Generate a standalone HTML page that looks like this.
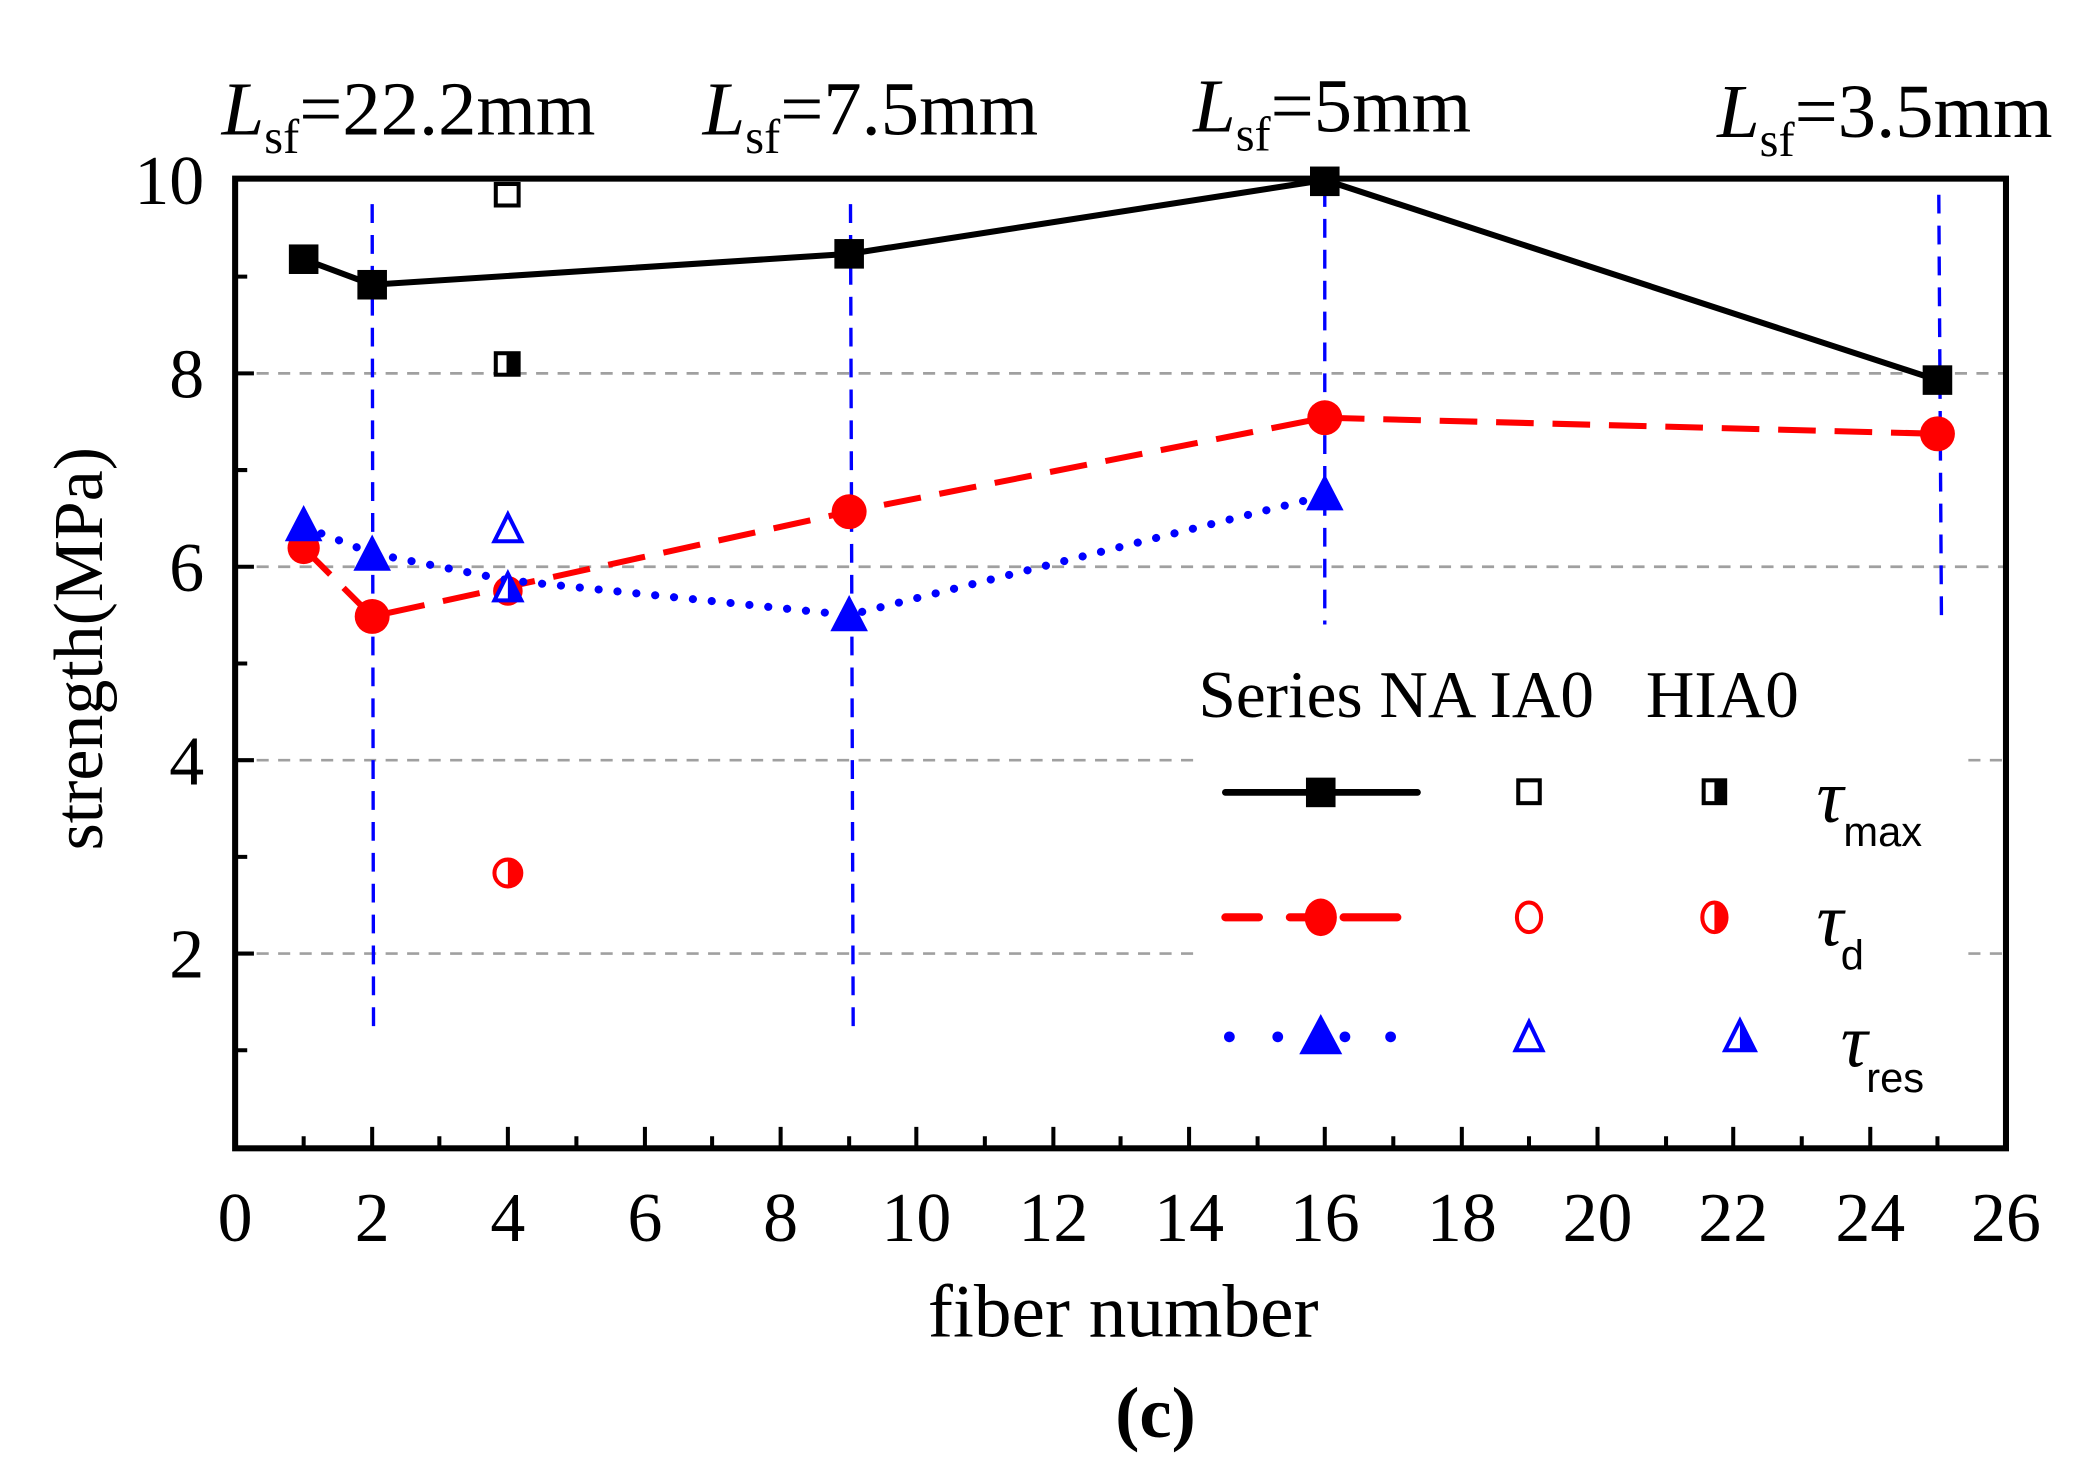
<!DOCTYPE html>
<html><head><meta charset="utf-8"><style>html,body{margin:0;padding:0;background:#fff}svg{display:block}</style></head>
<body>
<svg width="2096" height="1472" viewBox="0 0 1560 1096" preserveAspectRatio="none" xmlns="http://www.w3.org/2000/svg" font-family="Liberation Serif, serif">
<!-- grid -->
<g stroke="#a0a0a0" stroke-width="2" stroke-dasharray="9,7">
<line x1="175" y1="278" x2="1493" y2="278"/>
<line x1="175" y1="422" x2="1493" y2="422"/>
<line x1="175" y1="566" x2="890" y2="566"/><line x1="1465" y1="566" x2="1493" y2="566"/>
<line x1="175" y1="710" x2="890" y2="710"/><line x1="1465" y1="710" x2="1493" y2="710"/>
</g>
<!-- blue vertical dashed -->
<g stroke="#0000ff" stroke-width="2.5" stroke-dasharray="14,9">
<line x1="277" y1="152" x2="278" y2="768"/>
<line x1="633" y1="152" x2="635" y2="765"/>
<line x1="986" y1="140" x2="986" y2="465"/>
<line x1="1443" y1="145" x2="1445" y2="465"/>
</g>
<!-- axes -->
<rect x="175" y="133" width="1318" height="722" fill="none" stroke="#000" stroke-width="4.5"/>
<g stroke="#000" stroke-width="3">
<path d="M277 855v-16M378 855v-16M480 855v-16M581 855v-16M682 855v-16M784 855v-16M885 855v-16M986 855v-16M1088 855v-16M1189 855v-16M1290 855v-16M1392 855v-16"/>
<path d="M226 855v-9M327 855v-9M429 855v-9M530 855v-9M632 855v-9M733 855v-9M834 855v-9M936 855v-9M1037 855v-9M1138 855v-9M1240 855v-9M1341 855v-9M1442 855v-9"/>
<path d="M175 710h14M175 566h14M175 422h14M175 278h14"/>
<path d="M175 782h9M175 638h9M175 494h9M175 350h9M175 206h9"/>
</g>
<!-- tick labels -->
<g font-size="52" text-anchor="middle" fill="#000">
<text x="175" y="924">0</text><text x="277" y="924">2</text><text x="378" y="924">4</text><text x="480" y="924">6</text><text x="581" y="924">8</text><text x="682" y="924">10</text><text x="784" y="924">12</text><text x="885" y="924">14</text><text x="986" y="924">16</text><text x="1088" y="924">18</text><text x="1189" y="924">20</text><text x="1290" y="924">22</text><text x="1392" y="924">24</text><text x="1493" y="924">26</text>
</g>
<g font-size="52" text-anchor="end" fill="#000">
<text x="152" y="728">2</text><text x="152" y="584">4</text><text x="152" y="440">6</text><text x="152" y="296">8</text><text x="152" y="152">10</text>
</g>
<text x="836" y="995" font-size="56" text-anchor="middle">fiber number</text>
<text x="860" y="1070" font-size="54" font-weight="bold" text-anchor="middle">(c)</text>
<text transform="translate(76,483) rotate(-90)" font-size="52" text-anchor="middle">strength(MPa)</text>
<!-- Lsf labels -->
<g font-size="57" fill="#000">
<text x="165" y="100"><tspan font-style="italic">L</tspan><tspan font-size="36" dy="14">sf</tspan><tspan dy="-14">=22.2mm</tspan></text>
<text x="523" y="100"><tspan font-style="italic">L</tspan><tspan font-size="36" dy="14">sf</tspan><tspan dy="-14">=7.5mm</tspan></text>
<text x="888" y="98"><tspan font-style="italic">L</tspan><tspan font-size="36" dy="14">sf</tspan><tspan dy="-14">=5mm</tspan></text>
<text x="1278" y="102"><tspan font-style="italic">L</tspan><tspan font-size="36" dy="14">sf</tspan><tspan dy="-14">=3.5mm</tspan></text>
</g>
<!-- tau max -->
<polyline points="226,193 277,212 632,189 986,134 1442,283" fill="none" stroke="#000" stroke-width="4.5"/>
<g fill="#000"><rect x="215" y="182" width="22" height="22"/><rect x="266" y="201" width="22" height="22"/><rect x="621" y="178" width="22" height="22"/><rect x="975" y="124" width="22" height="22"/><rect x="1431" y="272" width="22" height="22"/></g>
<rect x="369" y="137" width="17" height="16" fill="#fff" stroke="#000" stroke-width="3"/>
<rect x="369" y="263" width="17" height="16" fill="#fff" stroke="#000" stroke-width="3"/><rect x="377" y="263" width="9" height="16" fill="#000"/>
<!-- tau d -->
<polyline points="226,408 277,459 378,437 632,381 986,311 1442,323" fill="none" stroke="#ff0000" stroke-width="4.5" stroke-dasharray="28,14"/>
<g fill="#ff0000"><circle cx="226" cy="408" r="12"/><circle cx="277" cy="459" r="13"/><circle cx="378" cy="440" r="11"/><circle cx="632" cy="381" r="13"/><circle cx="986" cy="311" r="13"/><circle cx="1442" cy="323" r="13"/></g>
<circle cx="378" cy="650" r="10" fill="#fff" stroke="#ff0000" stroke-width="3"/><path d="M378 640a10 10 0 0 1 0 20z" fill="#ff0000"/>
<!-- tau res -->
<polyline points="226,392 277,412 378,432 632,458 986,369" fill="none" stroke="#0000ff" stroke-width="6" stroke-dasharray="0.1,14" stroke-linecap="round"/>
<g fill="#0000ff"><path d="M226 376l14 27h-28z"/><path d="M277 398l14 27h-28z"/><path d="M632 443l14 27h-28z"/><path d="M986 353l14 27h-28z"/></g>
<path d="M378 383l10 20h-20z" fill="#fff" stroke="#0000ff" stroke-width="3"/>
<path d="M378 427l10 20h-20z" fill="#fff" stroke="#0000ff" stroke-width="3"/><path d="M378 427l10 20h-10z" fill="#0000ff"/>
<!-- legend -->
<g font-size="50"><text x="892" y="534">Series NA IA0</text><text x="1225" y="534">HIA0</text></g>
<line x1="912" y1="590" x2="1055" y2="590" stroke="#000" stroke-width="5" stroke-linecap="round"/>
<rect x="972" y="579" width="22" height="22" fill="#000"/>
<rect x="1130" y="581" width="16" height="17" fill="#fff" stroke="#000" stroke-width="3"/>
<rect x="1268" y="581" width="16" height="17" fill="#fff" stroke="#000" stroke-width="3"/><rect x="1276" y="581" width="8" height="17" fill="#000"/>
<path d="M912 683h25M960 683h12M1000 683h40" stroke="#ff0000" stroke-width="6" stroke-linecap="round"/>
<ellipse cx="983" cy="683" rx="12" ry="14" fill="#ff0000"/>
<ellipse cx="1138" cy="683" rx="9" ry="11" fill="#fff" stroke="#ff0000" stroke-width="3"/>
<ellipse cx="1276" cy="683" rx="9" ry="11" fill="#fff" stroke="#ff0000" stroke-width="3"/><path d="M1276 672a9 11 0 0 1 0 22z" fill="#ff0000"/>
<g fill="#0000ff"><circle cx="915" cy="772" r="4"/><circle cx="951" cy="772" r="4"/><circle cx="1001" cy="772" r="4"/><circle cx="1035" cy="772" r="4"/></g>
<path d="M983 755l16 30h-32z" fill="#0000ff"/>
<path d="M1138 761l10 21h-20z" fill="#fff" stroke="#0000ff" stroke-width="3"/>
<path d="M1295 760l11 22h-22z" fill="#fff" stroke="#0000ff" stroke-width="3"/><path d="M1295 760l11 22h-11z" fill="#0000ff"/>
<g font-size="56" font-style="italic"><text x="1352" y="612">τ</text><text x="1352" y="704">τ</text><text x="1370" y="794">τ</text></g>
<g font-family="Liberation Sans, sans-serif" font-size="31"><text x="1372" y="630">max</text><text x="1370" y="722">d</text><text x="1389" y="813">res</text></g>
</svg>
</body></html>
